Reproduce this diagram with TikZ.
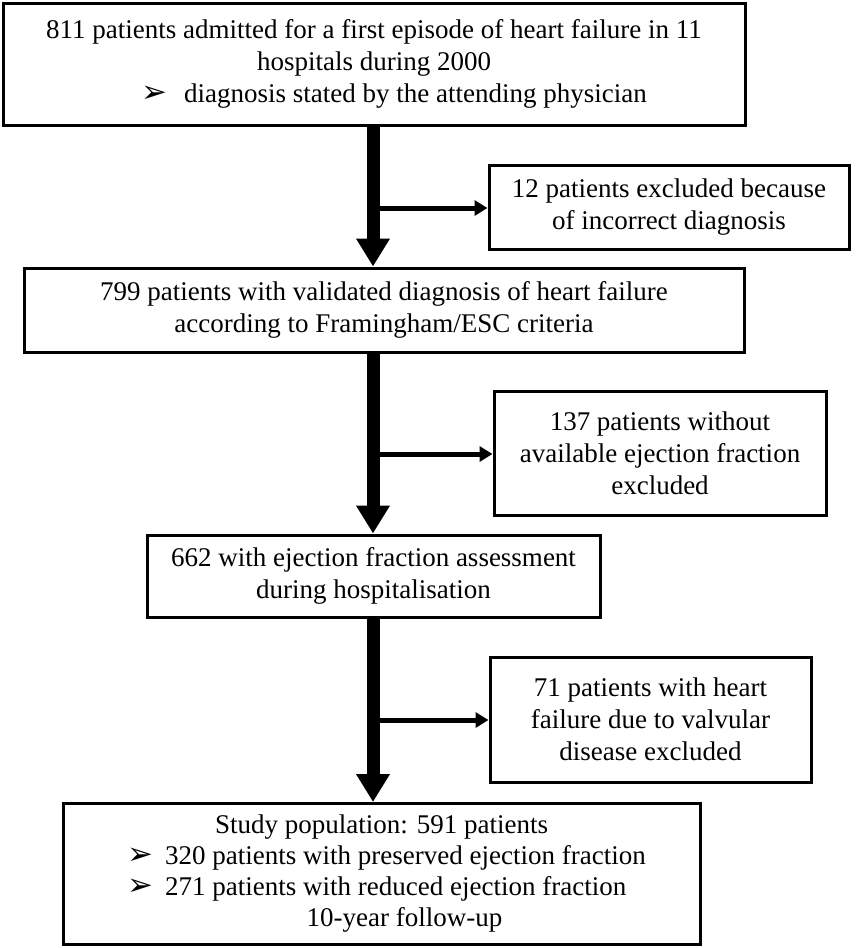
\documentclass[tikz,border=0pt]{standalone}
\usepackage{fontspec}
\setmainfont{Liberation Serif}
\newfontfamily\symfont{DejaVu Sans}
\usetikzlibrary{arrows.meta}
\newcommand{\bul}{{\symfont\fontsize{31pt}{31pt}\selectfont ➢}}
\begin{document}
\begin{tikzpicture}[x=1pt,y=-1pt,
  box/.style={draw=black,line width=3pt,inner sep=0pt,align=center,
    font=\fontsize{27pt}{32pt}\selectfont},
  mainarrow/.style={line width=13pt,-{Triangle[width=32pt,length=28pt]}},
  branch/.style={line width=5pt,-{Triangle[width=15pt,length=13pt]}}]
\useasboundingbox (0,0) rectangle (866,948);
\node[box,minimum width=742pt,minimum height=122pt] (b1) at (374,64)
  {811 patients admitted for a first episode of heart failure in 11\\
   hospitals during 2000\\
   \hspace*{40pt}\bul\hspace{10pt} diagnosis stated by the attending physician};
\node[box,minimum width=360pt,minimum height=84pt] (e1) at (669,207)
  {12 patients excluded because\\ of incorrect diagnosis};
\node[box,minimum width=720pt,minimum height=84pt] (b2) at (384,310)
  {799 patients with validated diagnosis of heart failure\\ according to Framingham/ESC criteria};
\node[box,minimum width=332pt,minimum height=124pt] (e2) at (660,453)
  {137 patients without\\ available ejection fraction\\ excluded};
\node[box,minimum width=453pt,minimum height=82pt] (b3) at (373.5,576)
  {662 with ejection fraction assessment\\ during hospitalisation};
\node[box,minimum width=321pt,minimum height=125pt] (e3) at (650.5,719.5)
  {71 patients with heart\\ failure due to valvular\\ disease excluded};
\node[box,minimum width=637pt,minimum height=141pt] (b4) at (381.5,874)
  {\begin{tabular}{@{}l@{}}
   \multicolumn{1}{c}{Study population: 591 patients}\\[-1pt]
   \hspace*{10pt}\makebox[38pt][l]{\bul}320 patients with preserved ejection fraction\\[-1pt]
   \hspace*{10pt}\makebox[38pt][l]{\bul}271 patients with reduced ejection fraction\\[-1pt]
   \multicolumn{1}{c}{\hspace*{46pt}10-year follow-up}
   \end{tabular}};
\coordinate (s1) at (373,208);
\coordinate (s2) at (373,454);
\coordinate (s3) at (373,720);
\draw[mainarrow] (b1.south -| s1) -- (b2.north -| s1);
\draw[mainarrow] (b2.south -| s1) -- (b3.north -| s1);
\draw[mainarrow] (b3.south -| s1) -- (b4.north -| s1);
\draw[branch] (s1) -- (s1 -| e1.west);
\draw[branch] (s2) -- (s2 -| e2.west);
\draw[branch] (s3) -- (s3 -| e3.west);
\end{tikzpicture}
\end{document}
